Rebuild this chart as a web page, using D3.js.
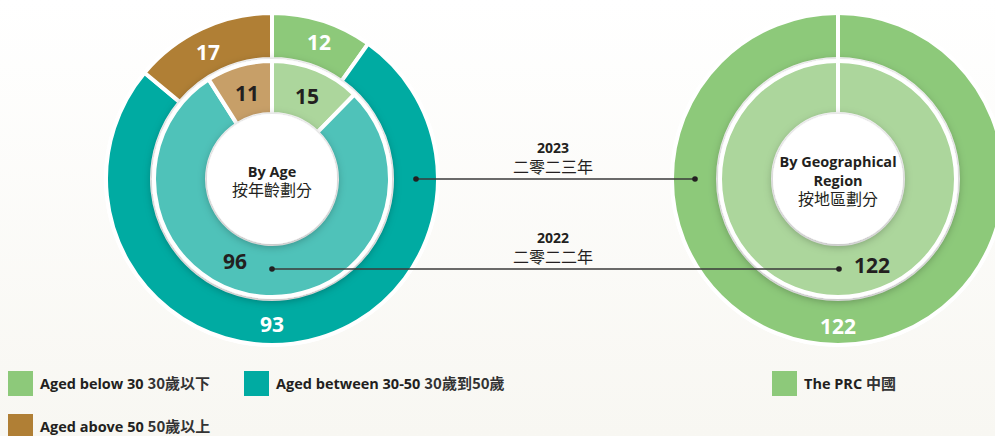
<!DOCTYPE html>
<html>
<head>
<meta charset="utf-8">
<script src="https://cdn.jsdelivr.net/npm/d3@7"></script>
<style>
  html, body { margin: 0; padding: 0; background: #fbfaf7; }
  svg { display: block; }
  text { font-family: "Open Sans", "Noto Sans", sans-serif; fill: #231f20; }
  .cjk { font-family: "Noto Sans CJK TC", "Noto Sans CJK SC", sans-serif; }
</style>
</head>
<body>
<div id="chart"></div>
<script>
// age groups
const ageLabelsEn = ['Aged below 30', 'Aged between 30-50', 'Aged above 50'];
const ageLabelsZh = ['30歲以下', '30歲到50歲', '50歲以上'];
const age2023 = [12, 93, 17];
const age2022 = [15, 96, 11];

// geographical region
const regionLabelsEn = ['The PRC'];
const regionLabelsZh = ['中國'];
const region2023 = [122];
const region2022 = [122];

const outerColors = ['#8dc97a', '#00aba2', '#b07f35'];
const innerColors = ['#acd69c', '#4fc2b9', '#c79f67'];
const regionOuter = ['#8dc97a'];
const regionInner = ['#acd69c'];

const width = 995, height = 436;

const svg = d3.select('#chart').append('svg')
  .attr('width', width)
  .attr('height', height);

const defs = svg.append('defs');
const bg = defs.append('linearGradient').attr('id', 'bg').attr('x1', 0).attr('y1', 0).attr('x2', 0).attr('y2', 1);
bg.append('stop').attr('offset', '0%').attr('stop-color', '#ffffff');
bg.append('stop').attr('offset', '100%').attr('stop-color', '#f8f7f2');

const shadow = defs.append('filter').attr('id', 'shadow')
  .attr('x', '-30%').attr('y', '-30%').attr('width', '160%').attr('height', '160%');
shadow.append('feDropShadow').attr('dx', 0).attr('dy', 2).attr('stdDeviation', 5)
  .attr('flood-color', '#000').attr('flood-opacity', 0.32);

svg.append('rect').attr('width', width).attr('height', height).attr('fill', 'url(#bg)');

const rOuter = 166, rOuterIn = 120, rInner = 118, rCenter = 65;

const pie = d3.pie().sort(null).value(d => d);
const arcOuter = d3.arc().innerRadius(rOuterIn).outerRadius(rOuter);
const arcInner = d3.arc().innerRadius(rCenter).outerRadius(rInner);

function drawDonut(cx, cy, outerVals, innerVals, oColors, iColors, titleLines, titleY) {
  const g = svg.append('g').attr('transform', 'translate(' + cx + ',' + cy + ')');

  g.append('circle').attr('r', rOuter + 2).attr('fill', '#ffffff');

  g.append('g').selectAll('path').data(pie(outerVals)).enter().append('path')
    .attr('d', arcOuter)
    .attr('fill', (d, i) => oColors[i])
    .attr('stroke', '#ffffff').attr('stroke-width', 4);

  g.append('g').attr('filter', 'url(#shadow)').selectAll('path').data(pie(innerVals)).enter().append('path')
    .attr('d', arcInner)
    .attr('fill', (d, i) => iColors[i])
    .attr('stroke', '#ffffff').attr('stroke-width', 4);

  // single-slice rings still show a seam at the top
  if (outerVals.length === 1) {
    g.append('line').attr('x1', 0).attr('x2', 0).attr('y1', -rOuter - 2).attr('y2', -rCenter)
      .attr('stroke', '#ffffff').attr('stroke-width', 4);
  }

  g.append('circle').attr('r', rCenter).attr('fill', '#ffffff').attr('filter', 'url(#shadow)');

  const t = g.append('text').attr('text-anchor', 'middle');
  titleLines.forEach((line, i) => {
    t.append('tspan').attr('x', 0).attr('y', titleY + i * 19)
      .attr('class', line.zh ? 'cjk' : null)
      .style('font-weight', line.zh ? 400 : 700)
      .style('font-size', line.zh ? '16px' : '14.5px')
      .text(line.text);
  });
  return g;
}

// by age
const gAge = drawDonut(272, 179, age2023, age2022, outerColors, innerColors,
  [{ text: 'By Age' }, { text: '按年齡劃分', zh: true }], -2);

const ageOuterPos = [[47, -137], [0, 145], [-64, -127]];
const ageInnerPos = [[35, -83], [-37, 82], [-25, -86]];

gAge.append('g').selectAll('text').data(pie(age2023)).enter().append('text')
  .attr('x', (d, i) => ageOuterPos[i][0]).attr('y', (d, i) => ageOuterPos[i][1])
  .attr('text-anchor', 'middle').attr('dy', '0.36em')
  .style('font-size', '21px').style('font-weight', 700).style('fill', '#ffffff')
  .text(d => d.data);

gAge.append('g').selectAll('text').data(pie(age2022)).enter().append('text')
  .attr('x', (d, i) => ageInnerPos[i][0]).attr('y', (d, i) => ageInnerPos[i][1])
  .attr('text-anchor', 'middle').attr('dy', '0.36em')
  .style('font-size', '21px').style('font-weight', 700)
  .text(d => d.data);

// by region
const gReg = drawDonut(838, 179, region2023, region2022, regionOuter, regionInner,
  [{ text: 'By Geographical' }, { text: 'Region' }, { text: '按地區劃分', zh: true }], -12);

gReg.append('text').attr('x', 0).attr('y', 147).attr('dy', '0.36em').attr('text-anchor', 'middle')
  .style('font-size', '21px').style('font-weight', 700).style('fill', '#ffffff')
  .text(region2023[0]);
gReg.append('text').attr('x', 34).attr('y', 86).attr('dy', '0.36em').attr('text-anchor', 'middle')
  .style('font-size', '21px').style('font-weight', 700)
  .text(region2022[0]);

// year connectors
const years = [
  { en: '2023', zh: '二零二三年', x1: 416, x2: 695, y: 179 },
  { en: '2022', zh: '二零二二年', x1: 272, x2: 839, y: 269 }
];
const conn = svg.append('g');
years.forEach(yr => {
  conn.append('line').attr('x1', yr.x1).attr('x2', yr.x2).attr('y1', yr.y).attr('y2', yr.y)
    .attr('stroke', '#3a3a3a').attr('stroke-width', 1.5);
  conn.append('circle').attr('cx', yr.x1).attr('cy', yr.y).attr('r', 2.8).attr('fill', '#231f20');
  conn.append('circle').attr('cx', yr.x2).attr('cy', yr.y).attr('r', 2.8).attr('fill', '#231f20');
  const t = conn.append('text').attr('text-anchor', 'middle');
  t.append('tspan').attr('x', 553).attr('y', yr.y - 26)
    .style('font-size', '14px').style('font-weight', 700).text(yr.en);
  t.append('tspan').attr('x', 553).attr('y', yr.y - 6)
    .attr('class', 'cjk').style('font-size', '16px').text(yr.zh);
});

// legend
const legendItems = [
  { en: ageLabelsEn[0], zh: ageLabelsZh[0], color: outerColors[0], x: 8, y: 371 },
  { en: ageLabelsEn[1], zh: ageLabelsZh[1], color: outerColors[1], x: 244, y: 371 },
  { en: ageLabelsEn[2], zh: ageLabelsZh[2], color: outerColors[2], x: 8, y: 414 },
  { en: regionLabelsEn[0], zh: regionLabelsZh[0], color: regionOuter[0], x: 772, y: 371 }
];
const legend = svg.append('g').selectAll('g').data(legendItems).enter().append('g')
  .attr('transform', d => 'translate(' + d.x + ',' + d.y + ')');
legend.append('rect').attr('width', 25).attr('height', 25).attr('fill', d => d.color);
const lt = legend.append('text').attr('x', 32).attr('y', 18).style('font-size', '14.5px');
lt.append('tspan').style('font-weight', 700).text(d => d.en + ' ');
lt.append('tspan').attr('class', 'cjk').style('font-size', '15px').style('font-weight', 700)
  .style('fill', '#333333').text(d => d.zh);
</script>
</body>
</html>
